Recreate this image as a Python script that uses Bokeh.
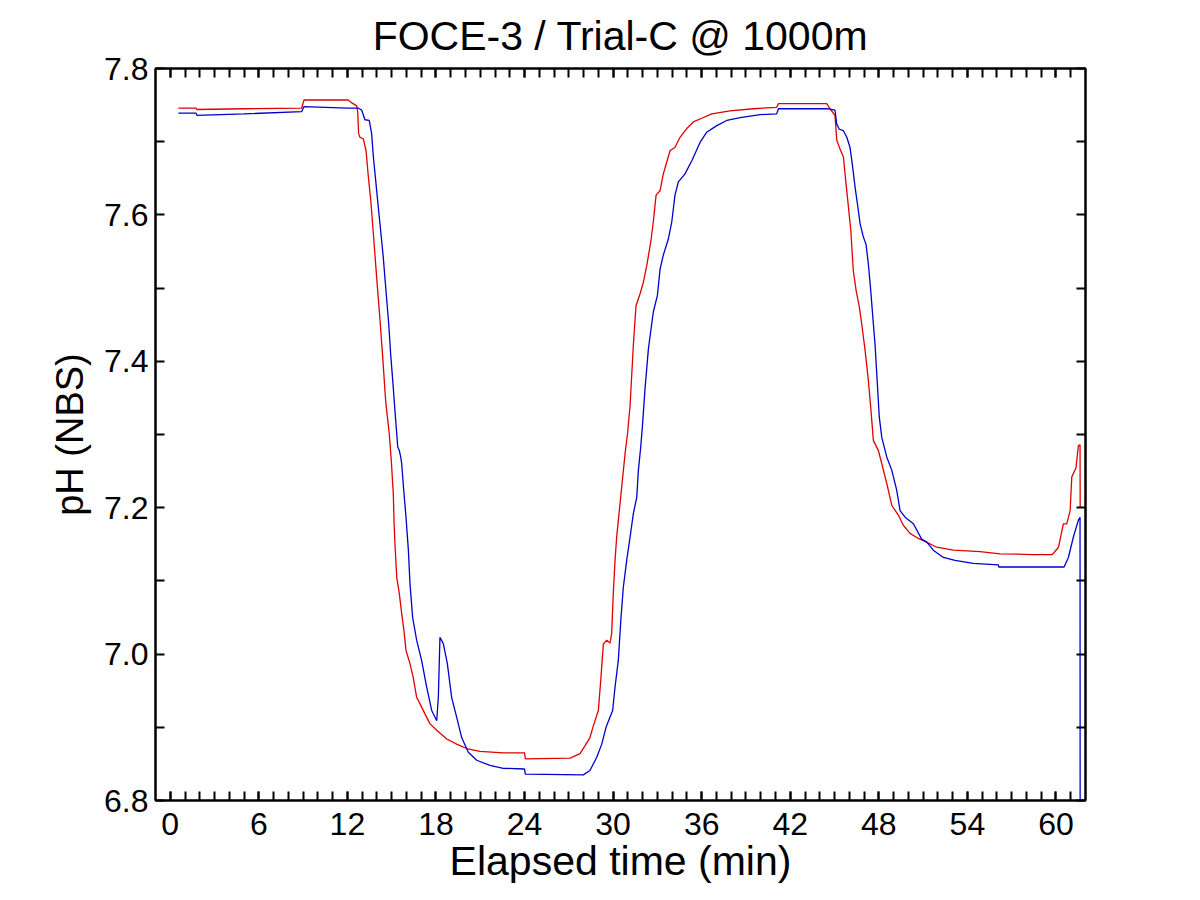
from bokeh.plotting import figure
from bokeh.models import LinearAxis, FixedTicker, PrintfTickFormatter, Range1d, ColumnDataSource
from bokeh.embed import file_html
from bokeh.resources import INLINE

# ---- data ----
red_t = [0.55, 1.75, 1.8, 5.0, 8.9, 9.06, 12.05, 12.3, 12.63, 12.70, 12.76, 12.85, 13.08, 13.26, 13.42,
         13.58, 13.76, 13.98, 14.21, 14.39, 14.59, 14.84, 14.98, 15.06, 15.11, 15.16, 15.22, 15.34, 15.52,
         15.68, 15.83, 15.97, 16.24, 16.46, 16.69, 16.92, 17.26, 17.59, 18.05, 18.73, 19.40, 20.08, 20.98,
         22.56, 24.00, 24.05, 27.08, 27.76, 28.10, 28.43, 28.66, 29.00, 29.16, 29.34, 29.57, 29.79, 29.90,
         30.01, 30.13, 30.24, 30.42, 30.58, 30.81, 30.98, 31.15, 31.37, 31.55, 31.82, 32.05, 32.28, 32.55,
         32.72, 32.91, 33.18, 33.40, 33.63, 33.86, 34.19, 34.53, 34.99, 35.43, 36.00, 36.68, 37.92, 39.50,
         41.08, 41.20, 44.47, 44.69, 45.03, 45.15, 45.37, 45.60, 45.78, 45.94, 46.10, 46.27, 46.46, 46.68,
         46.84, 47.07, 47.29, 47.45, 47.63, 47.97, 48.20, 48.54, 48.88, 49.32, 49.66, 50.11, 50.68, 51.02,
         51.92, 53.05, 54.86, 56.21, 58.47, 59.75, 60.17, 60.50, 60.73, 60.96, 61.07, 61.36, 61.52, 61.63,
         61.64]
red_ph = [7.746, 7.746, 7.744, 7.745, 7.746, 7.757, 7.757, 7.753, 7.749, 7.740, 7.711, 7.706, 7.704, 7.688,
          7.652, 7.620, 7.574, 7.515, 7.456, 7.406, 7.346, 7.300, 7.262, 7.235, 7.219, 7.180, 7.151, 7.105,
          7.082, 7.055, 7.032, 7.005, 6.987, 6.968, 6.941, 6.932, 6.918, 6.905, 6.896, 6.884, 6.877, 6.871,
          6.867, 6.865, 6.865, 6.857, 6.858, 6.864, 6.875, 6.886, 6.902, 6.923, 6.964, 7.014, 7.019, 7.015,
          7.028, 7.082, 7.128, 7.160, 7.196, 7.228, 7.274, 7.302, 7.340, 7.422, 7.476, 7.492, 7.508, 7.531,
          7.563, 7.590, 7.627, 7.633, 7.656, 7.672, 7.688, 7.692, 7.706, 7.718, 7.727, 7.732, 7.738, 7.742,
          7.745, 7.747, 7.752, 7.752, 7.745, 7.736, 7.702, 7.690, 7.679, 7.642, 7.611, 7.579, 7.524, 7.497,
          7.474, 7.451, 7.415, 7.374, 7.337, 7.292, 7.278, 7.260, 7.233, 7.203, 7.190, 7.176, 7.165, 7.158,
          7.155, 7.146, 7.142, 7.140, 7.137, 7.136, 7.136, 7.146, 7.178, 7.178, 7.196, 7.242, 7.255, 7.285,
          7.286, 7.201]

blue_t = [0.55, 1.75, 1.8, 5.0, 8.9, 9.06, 12.0, 12.74, 12.97, 13.19, 13.48, 13.64, 13.76, 13.94, 14.09,
          14.25, 14.43, 14.61, 14.80, 14.93, 15.07, 15.22, 15.41, 15.52, 15.61, 15.68, 15.79, 15.97, 16.13,
          16.24, 16.42, 16.69, 17.03, 17.37, 17.71, 18.05, 18.16, 18.27, 18.50, 18.77, 19.06, 19.40, 19.74,
          20.19, 20.76, 21.66, 22.56, 24.00, 24.05, 27.98, 28.43, 28.89, 29.23, 29.52, 29.79, 29.97, 30.13,
          30.35, 30.52, 30.69, 30.92, 31.15, 31.37, 31.60, 31.71, 31.87, 31.98, 32.16, 32.39, 32.72, 33.00,
          33.18, 33.40, 33.74, 33.97, 34.19, 34.42, 34.87, 35.33, 35.89, 36.34, 37.02, 37.70, 38.60, 39.95,
          41.08, 41.20, 44.58, 45.03, 45.15, 45.32, 45.60, 45.83, 46.05, 46.23, 46.39, 46.55, 46.73, 46.95,
          47.13, 47.29, 47.45, 47.63, 47.74, 47.90, 48.03, 48.20, 48.54, 48.88, 49.21, 49.44, 49.78, 50.34,
          50.90, 51.25, 51.69, 52.37, 53.16, 54.40, 56.10, 56.12, 60.55, 60.84, 61.18, 61.52, 61.63, 61.64]
blue_ph = [7.739, 7.739, 7.736, 7.738, 7.741, 7.748, 7.746, 7.746, 7.743, 7.730, 7.729, 7.711, 7.679, 7.642,
           7.611, 7.579, 7.542, 7.497, 7.451, 7.410, 7.374, 7.333, 7.283, 7.278, 7.269, 7.260, 7.230, 7.187,
           7.142, 7.096, 7.050, 7.019, 6.991, 6.955, 6.923, 6.909, 6.941, 7.023, 7.014, 6.987, 6.941, 6.914,
           6.886, 6.866, 6.855, 6.848, 6.844, 6.843, 6.836, 6.835, 6.841, 6.859, 6.877, 6.900, 6.914, 6.923,
           6.955, 6.991, 7.046, 7.091, 7.128, 7.160, 7.192, 7.214, 7.251, 7.283, 7.310, 7.362, 7.417, 7.467,
           7.490, 7.526, 7.545, 7.567, 7.590, 7.627, 7.645, 7.656, 7.674, 7.699, 7.713, 7.722, 7.729, 7.733,
           7.737, 7.738, 7.745, 7.745, 7.743, 7.724, 7.717, 7.715, 7.706, 7.692, 7.665, 7.638, 7.615, 7.588,
           7.570, 7.560, 7.533, 7.497, 7.451, 7.424, 7.369, 7.324, 7.296, 7.269, 7.251, 7.224, 7.196, 7.187,
           7.178, 7.157, 7.153, 7.142, 7.132, 7.128, 7.124, 7.122, 7.119, 7.119, 7.132, 7.160, 7.183, 7.187,
           6.600]

x_major_ticks = [0, 6, 12, 18, 24, 30, 36, 42, 48, 54, 60]
x_minor_ticks = list(range(0, 62))
y_major_ticks = [6.8, 7.0, 7.2, 7.4, 7.6, 7.8]
y_minor_ticks = [6.9, 7.1, 7.3, 7.5, 7.7]

title_text = "FOCE-3 / Trial-C @ 1000m"
x_label = "Elapsed time (min)"
y_label = "pH (NBS)"

FONT = "Liberation Sans"

p = figure(frame_width=930, frame_height=732,
           x_range=Range1d(-1, 62), y_range=Range1d(6.8, 7.8),
           output_backend="svg", toolbar_location=None,
           min_border_left=155, min_border_right=99, min_border_top=68, min_border_bottom=84,
           title=title_text)

p.title.align = "center"
p.title.text_font = FONT
p.title.text_font_size = "41px"
p.title.text_font_style = "normal"
p.title.text_color = "black"
p.title.standoff = 20

p.background_fill_color = "white"
p.border_fill_color = "white"
p.outline_line_color = "black"
p.outline_line_width = 2
p.xgrid.visible = False
p.ygrid.visible = False

def style_axis(ax, ticks, minor, fmt=None, labels=True):
    ax.ticker = FixedTicker(ticks=ticks, minor_ticks=minor)
    ax.axis_line_color = "black"
    ax.axis_line_width = 2
    ax.major_tick_line_color = "black"
    ax.major_tick_line_width = 2
    ax.minor_tick_line_color = "black"
    ax.minor_tick_line_width = 2
    ax.major_tick_in = 9
    ax.major_tick_out = 0
    ax.minor_tick_in = 9
    ax.minor_tick_out = 0
    if fmt is not None:
        ax.formatter = fmt
    if labels:
        ax.major_label_text_font = FONT
        ax.major_label_text_font_size = "32px"
        ax.major_label_text_color = "black"
    else:
        ax.major_label_text_font_size = "1px"
        ax.major_label_text_color = None
        ax.major_label_standoff = 0

style_axis(p.xaxis[0], x_major_ticks, x_minor_ticks)
p.xaxis[0].major_label_standoff = 12
p.xaxis[0].axis_label = x_label
p.xaxis[0].axis_label_text_font = FONT
p.xaxis[0].axis_label_text_font_size = "41px"
p.xaxis[0].axis_label_text_font_style = "normal"
p.xaxis[0].axis_label_text_color = "black"
p.xaxis[0].axis_label_standoff = 0

style_axis(p.yaxis[0], y_major_ticks, y_minor_ticks, PrintfTickFormatter(format="%.1f"))
p.yaxis[0].major_label_standoff = 7
p.yaxis[0].axis_label = y_label
p.yaxis[0].axis_label_text_font = FONT
p.yaxis[0].axis_label_text_font_size = "38px"
p.yaxis[0].axis_label_text_font_style = "normal"
p.yaxis[0].axis_label_text_color = "black"
p.yaxis[0].axis_label_standoff = 10

top = LinearAxis()
style_axis(top, x_major_ticks, x_minor_ticks, labels=False)
p.add_layout(top, "above")
right = LinearAxis()
style_axis(right, y_major_ticks, y_minor_ticks, labels=False)
p.add_layout(right, "right")

red_src = ColumnDataSource(dict(t=red_t, ph=red_ph))
blue_src = ColumnDataSource(dict(t=blue_t, ph=blue_ph))
p.line("t", "ph", source=red_src, line_color="#e00000", line_width=1.3)
p.line("t", "ph", source=blue_src, line_color="#0000cc", line_width=1.3)

open("out.html", "w").write(file_html(p, INLINE))
